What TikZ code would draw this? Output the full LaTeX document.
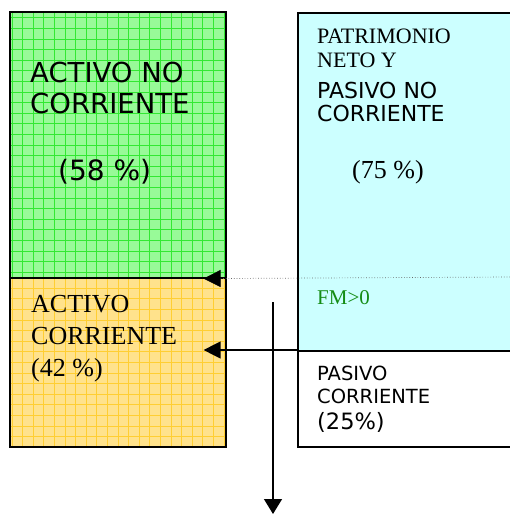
\documentclass[tikz,border=0pt]{standalone}
\usepackage{fontspec}
\setmainfont{Liberation Serif}
\setsansfont{DejaVu Sans}
\usetikzlibrary{arrows.meta}
\definecolor{verdeac}{RGB}{152,250,152}
\definecolor{lineaverde}{RGB}{50,232,50}
\definecolor{naranja}{RGB}{255,226,140}
\definecolor{lineanaranja}{RGB}{255,206,50}
\definecolor{celeste}{RGB}{204,255,255}
\definecolor{verdefm}{RGB}{20,140,20}

\begin{document}
\begin{tikzpicture}[
                x=1pt, y=-1pt,
                >={Triangle[length=17pt,width=17pt]},
                caja/.style={draw, line width=1.6pt, inner sep=0pt, anchor=north west},
                cuadros/.style={path picture={\draw[#1, line width=0.5pt]
                  (path picture bounding box.south west) grid[step=10.6pt]
                  (path picture bounding box.north east);}},
                rotulo/.style={anchor=north west, inner sep=0pt, align=left}
              ]
              \useasboundingbox (0,0) rectangle (510,514);

              % Activo
              \node[caja, fill=verdeac, cuadros=lineaverde, minimum width=216pt, minimum height=266pt] (anc) at (9,11) {};
              \node[caja, fill=naranja, cuadros=lineanaranja, minimum width=216pt, minimum height=169pt] (ac) at (9,277) {};

              % Patrimonio neto y pasivo
              \node[caja, fill=celeste, minimum width=222pt, minimum height=338pt] (pnc) at (297,12) {};
              \node[caja, fill=white, minimum width=222pt, minimum height=96pt] (pc) at (297,350) {};

              % Textos
              \node[rotulo, font=\sffamily\fontsize{27.5}{31}\selectfont] (anctxt) at (30,62) {ACTIVO NO\\CORRIENTE};
              \node[rotulo, font=\sffamily\fontsize{28}{31}\selectfont] (ancpct) at (58,159) {(58 \%)};
              \node[rotulo, font=\fontsize{26}{32}\selectfont] (actxt) at (31,295) {ACTIVO\\CORRIENTE\\(42 \%)};
              \node[rotulo, font=\fontsize{22}{24}\selectfont] (pntxt) at (317,29) {PATRIMONIO\\NETO Y};
              \node[rotulo, font=\sffamily\fontsize{22}{23}\selectfont] (pnctxt) at (317,82) {PASIVO NO\\CORRIENTE};
              \node[rotulo, font=\fontsize{26}{30}\selectfont] (pncpct) at (352,160) {(75 \%)};
              \node[rotulo, font=\fontsize{21}{24}\selectfont, text=verdefm] (fm) at (317,290) {FM>0};
              \node[rotulo, font=\sffamily\fontsize{19.5}{23}\selectfont] (pctxt) at (317,366) {PASIVO\\CORRIENTE};
              \node[rotulo, font=\sffamily\fontsize{22.5}{24}\selectfont] (pcpct) at (317,412) {(25\%)};

              % Flechas
              \coordinate (bordeder) at (510,277);
              \path (anc.south east) ++(-23pt,0) coordinate (puntaanc);
              \path (pc.north west -| ac.east) ++(-23pt,0) coordinate (puntaac);
              \coordinate (fmarriba) at (273,302);
              \coordinate (fmabajo) at (273,514);
              \draw[dotted, gray!80!black, line width=0.7pt, -{Triangle[length=17pt,width=17pt,black]}] (bordeder) -- (puntaanc);
              \draw[line width=1.3pt, ->] (pc.north west) -- (puntaac);
              \draw[line width=1.3pt, -{Triangle[length=15pt,width=18pt]}] (fmarriba) -- (fmabajo);
              \end{tikzpicture}
\end{document}
